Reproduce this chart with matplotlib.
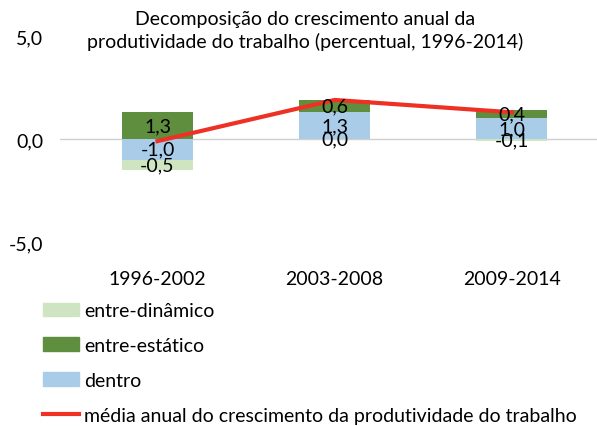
import matplotlib.pyplot as plt
from matplotlib.patches import Patch
from matplotlib.lines import Line2D

plt.rcParams["font.family"] = ["Lato", "DejaVu Sans"]

periods = ["1996-2002", "2003-2008", "2009-2014"]
dentro = [-1.0, 1.3, 1.0]
entre_estatico = [1.3, 0.6, 0.4]
entre_dinamico = [-0.5, 0.0, -0.1]
media_anual = [-0.1, 1.9, 1.3]
y_ticks = [-5.0, 0.0, 5.0]

c_din = "#cfe5c1"
c_est = "#5f8f3e"
c_den = "#a9cce9"
c_line = "#ee3124"
fs = 14


def fmt(v):
    return f"{v:.1f}".replace(".", ",")


fig = plt.figure(figsize=(5.97, 4.27), dpi=100)
ax = fig.add_axes([0.1005, 0.431, 0.8995, 0.482])

x = list(range(len(periods)))
width = 0.4
pos_base = [0.0] * 3
neg_base = [0.0] * 3
for values, color in [(dentro, c_den), (entre_estatico, c_est), (entre_dinamico, c_din)]:
    for i, v in enumerate(values):
        if v > 0:
            b = pos_base[i]
            pos_base[i] += v
        else:
            b = neg_base[i]
            neg_base[i] += v
        ax.bar(i, v, width=width, bottom=b, color=color, zorder=2)
        ax.text(i, b + v / 2, fmt(v), ha="center", va="center", fontsize=fs, zorder=4)

ax.plot(x, media_anual, color=c_line, linewidth=3, zorder=3)
ax.axhline(0, color="#d0d0d0", linewidth=1, zorder=1)

ax.set_xlim(-0.55, 2.48)
ax.set_ylim(-5, 5)
ax.set_yticks(y_ticks)
ax.set_yticklabels([fmt(v) for v in y_ticks], fontsize=fs)
ax.set_xticks(x)
ax.set_xticklabels(periods, fontsize=fs)
ax.tick_params(axis="y", length=0, pad=12)
ax.tick_params(axis="x", length=0, pad=20)
for s in ax.spines.values():
    s.set_visible(False)

fig.text(0.511, 1 - 11 / 427, "Decomposição do crescimento anual da\nprodutividade do trabalho (percentual, 1996-2014)",
         ha="center", va="top", fontsize=fs, linespacing=1.35)

handles = [
    Patch(color=c_din, label="entre-dinâmico"),
    Patch(color=c_est, label="entre-estático"),
    Patch(color=c_den, label="dentro"),
    Line2D([], [], color=c_line, linewidth=3, label="média anual do crescimento da produtividade do trabalho"),
]
fig.legend(handles=handles, loc="upper left", bbox_to_anchor=(0.072, 0.29), frameon=False,
           fontsize=fs, handlelength=1.85, handletextpad=0.25, labelspacing=0.92,
           borderpad=0, borderaxespad=0)

fig.savefig("out.png", dpi=100)
